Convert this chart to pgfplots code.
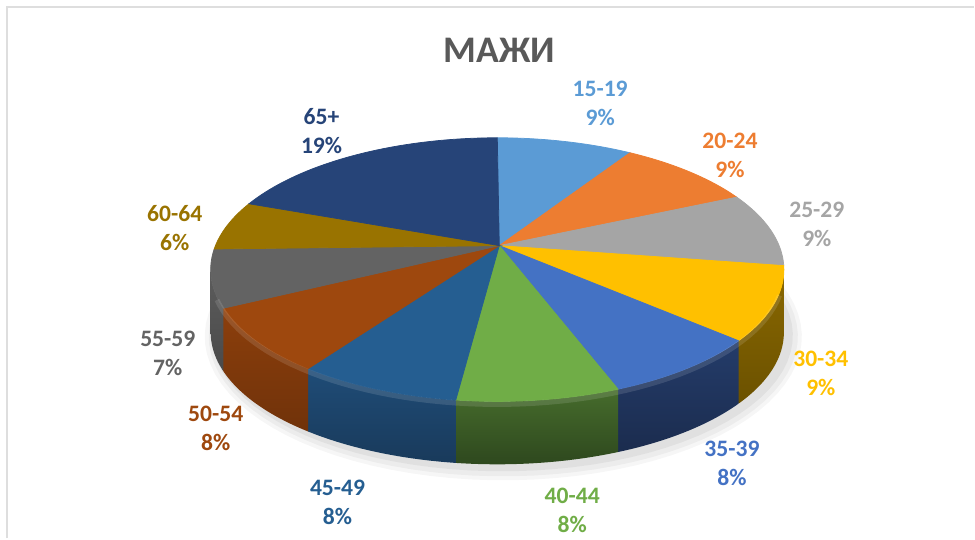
\documentclass[border=0pt]{standalone}
\usepackage{fontspec}
\setmainfont{Carlito}
\usepackage{pgfplots}
\usepackage{pgfplotstable}
\pgfplotsset{compat=1.18}

\definecolor{c0}{HTML}{5B9BD5}
\definecolor{c1}{HTML}{ED7D31}
\definecolor{c2}{HTML}{A5A5A5}
\definecolor{c3}{HTML}{FFC000}
\definecolor{c4}{HTML}{4472C4}
\definecolor{c5}{HTML}{70AD47}
\definecolor{c6}{HTML}{255E91}
\definecolor{c7}{HTML}{9E480E}
\definecolor{c8}{HTML}{636363}
\definecolor{c9}{HTML}{997300}
\definecolor{c10}{HTML}{264478}
% side colours (top / bottom of the wall)
\definecolor{s0}{HTML}{3F6F9A}\definecolor{d0}{HTML}{2F5577}
\definecolor{s1}{HTML}{A85520}\definecolor{d1}{HTML}{864418}
\definecolor{s2}{HTML}{777777}\definecolor{d2}{HTML}{5E5E5E}
\definecolor{s3}{HTML}{8A6800}\definecolor{d3}{HTML}{6B5100}
\definecolor{s4}{HTML}{243C6A}\definecolor{d4}{HTML}{1B2C4E}
\definecolor{s5}{HTML}{466C2C}\definecolor{d5}{HTML}{2E481E}
\definecolor{s6}{HTML}{1F4C77}\definecolor{d6}{HTML}{193A5B}
\definecolor{s7}{HTML}{8C3F0C}\definecolor{d7}{HTML}{70320A}
\definecolor{s8}{HTML}{5C5C5C}\definecolor{d8}{HTML}{4A4A4A}
\definecolor{s9}{HTML}{6E5300}\definecolor{d9}{HTML}{574100}
\definecolor{s10}{HTML}{1B3156}\definecolor{d10}{HTML}{152643}
\definecolor{titlegray}{HTML}{595959}

\tikzset{lbl/.style={font=\fontsize{9.3}{11.4}\selectfont\bfseries, align=center, inner sep=0pt}}

\pgfplotstableread{
grp pct
15-19 9
20-24 9
25-29 9
30-34 9
35-39 8
40-44 8
45-49 8
50-54 8
55-59 7
60-64 6
65+ 19
}\piedata

% geometry of the tilted pie (pixel units of the picture)
\def\cx{498}\def\cy{269}\def\rx{287}\def\ry{132}\def\hh{63}
\def\ax{500}\def\ay{293}

% cumulative angles from the data
\def\cum{0}
\pgfplotsforeachungrouped \i in {0,...,10}{%
  \pgfplotstablegetelem{\i}{pct}\of\piedata
  \pgfmathsetmacro{\thA}{3.6*\cum}%
  \pgfmathsetmacro{\cumnew}{\cum+\pgfplotsretval}%
  \global\let\cum\cumnew
  \pgfmathsetmacro{\thB}{3.6*\cum}%
  \pgfmathsetmacro{\tA}{\thA-9*sin(\thA)}%
  \pgfmathsetmacro{\tB}{\thB-9*sin(\thB)}%
  \expandafter\xdef\csname ta\i\endcsname{\tA}%
  \expandafter\xdef\csname tb\i\endcsname{\tB}%
  \pgfmathsetmacro{\lo}{max(\tA,90)}%
  \pgfmathsetmacro{\hi}{min(\tB,270)}%
  \expandafter\xdef\csname lo\i\endcsname{\lo}%
  \expandafter\xdef\csname hi\i\endcsname{\hi}%
  \pgfmathtruncatemacro{\vis}{(\hi>\lo+0.01) ? 1 : 0}%
  \expandafter\xdef\csname vis\i\endcsname{\vis}%
}

\def\TT{ifthenelse(\s<1, \LO+\s*(\HI-\LO), ifthenelse(\s<1.1, \HI, \HI-(\s-1.1)*(\HI-\LO)))}

\begin{document}
\begin{tikzpicture}
\begin{axis}[width=13.5cm,height=7.463cm,scale only axis,
  xmin=0,xmax=975,ymin=0,ymax=539,hide axis,clip=false]
\path (axis cs:0,0) rectangle (axis cs:975,539);
\draw[line width=1.1pt, color=black!13] (axis cs:7,0) -- (axis cs:7,532) -- (axis cs:975,532);

% soft shadow
\addplot[draw=none, fill=black, fill opacity=0.035, domain=0:360, samples=90] ({504+(\rx+12)*sin(x)},{\cy-\hh-4+(\ry+12)*cos(x)}) -- cycle;
\addplot[draw=none, fill=black, fill opacity=0.04, domain=0:360, samples=90] ({504+(\rx+8)*sin(x)},{\cy-\hh-4+(\ry+8)*cos(x)}) -- cycle;
\addplot[draw=none, fill=black, fill opacity=0.05, domain=0:360, samples=90] ({503+(\rx+4)*sin(x)},{\cy-\hh-3+(\ry+4)*cos(x)}) -- cycle;

% walls
\pgfplotsinvokeforeach{0,...,10}{%
  \ifnum\csname vis#1\endcsname=1
  \edef\LO{\csname lo#1\endcsname}\edef\HI{\csname hi#1\endcsname}%
  \addplot[draw=none, top color=s#1, bottom color=d#1, domain=0:2.1, samples=85, variable=\s]
    ({\cx+\rx*sin(\TT)},
     {ifthenelse(\s<1, \cy+\ry*cos(\TT), ifthenelse(\s<1.1, \cy+\ry*cos(\HI)-(\s-1)*10*\hh, \cy-\hh+\ry*cos(\TT)))}) -- cycle;
  \fi
}

% top face
\pgfplotsinvokeforeach{0,...,10}{%
  \edef\A{\csname ta#1\endcsname}\edef\B{\csname tb#1\endcsname}%
  \addplot[fill=c#1, draw=c#1, line width=0.3pt, domain=\A:\B, samples=40, variable=\t]
    ({\cx+\rx*sin(\t)},{\cy+\ry*cos(\t)}) -- (axis cs:\ax,\ay) -- cycle;
}
% soft rim highlight
\addplot[white, opacity=0.12, line width=2pt, domain=100:258, samples=60] ({\cx+\rx*sin(x)},{\cy-3+\ry*cos(x)});

% title and labels
\node[font=\fontsize{14.8}{17}\selectfont\bfseries, text=titlegray] at (axis cs:500,489) {МАЖИ};
\node[lbl, text=c0]  at (axis cs:601,435.5) {15-19\\9\%};
\node[lbl, text=c1]  at (axis cs:731,383.5) {20-24\\9\%};
\node[lbl, text=c2]  at (axis cs:818,314.5) {25-29\\9\%};
\node[lbl, text=c3]  at (axis cs:822,165)   {30-34\\9\%};
\node[lbl, text=c4]  at (axis cs:733,74.5)  {35-39\\8\%};
\node[lbl, text=c5]  at (axis cs:573,27.5)  {40-44\\8\%};
\node[lbl, text=c6]  at (axis cs:338,36)    {45-49\\8\%};
\node[lbl, text=c7]  at (axis cs:216,110)   {50-54\\8\%};
\node[lbl, text=c8]  at (axis cs:168,185)   {55-59\\7\%};
\node[lbl, text=c9]  at (axis cs:175,311)   {60-64\\6\%};
\node[lbl, text=c10] at (axis cs:322,407.5) {65+\\19\%};
\end{axis}
\end{tikzpicture}
\end{document}
